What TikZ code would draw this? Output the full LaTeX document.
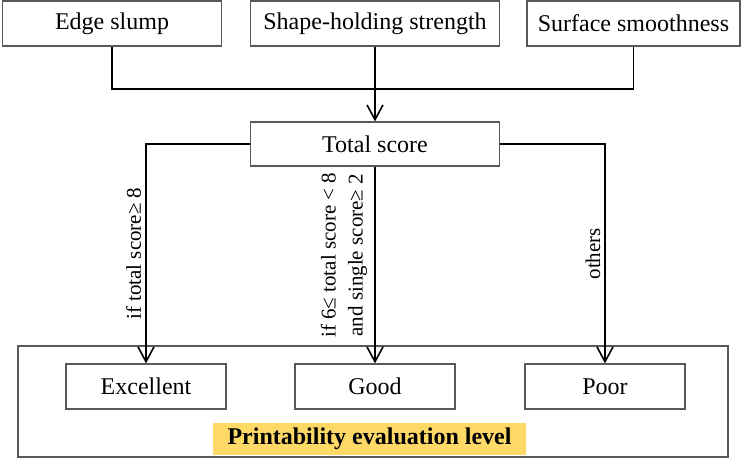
\documentclass[tikz,border=0pt]{standalone}
\usepackage{fontspec}
\setmainfont{Liberation Serif}
\usepackage{xcolor}
\usetikzlibrary{positioning,arrows.meta,calc}
\definecolor{cbox}{RGB}{89,89,89}
\definecolor{clevel}{RGB}{255,217,102}

\begin{document}
\begin{tikzpicture}[x=0.5pt,y=-0.5pt,font=\fontsize{12}{14}\selectfont,
  crit/.style={draw=cbox,semithick,inner sep=0pt,minimum height=22.5pt},
  grade/.style={draw=cbox,semithick,inner sep=0pt,minimum width=80pt,minimum height=22.5pt},
  flow/.style={-{Straight Barb[length=2.6mm,width=2.8mm]},black,thick},
  cond/.style={rotate=90,anchor=south,inner sep=2pt,align=center,font=\fontsize{10.5}{13.5}\selectfont},
]
\useasboundingbox (0,0) rectangle (750,461);
% criteria
\node[crit,minimum width=109.5pt] (slump) at (112,23.5) {Edge slump};
\node[crit,minimum width=124.5pt] (shape) at (375,23.5) {Shape-holding strength};
\node[crit,minimum width=106.5pt] (smooth) at (633.5,23.5) {Surface smoothness};
\node[crit,minimum width=124.5pt,minimum height=22pt] (total) at (375,144) {Total score};
% evaluation level
\node[draw=cbox,semithick,minimum width=355pt,minimum height=55.5pt,inner sep=0pt] (level) at (373,401.5) {};
\node[grade] (excel) at (146,386.5) {Excellent};
\node[grade] (good) at (375,386.5) {Good};
\node[grade] (poor) at (605,386.5) {Poor};
\node[fill=clevel,minimum width=156.5pt,minimum height=16pt,inner sep=0pt,font=\fontsize{12}{14}\selectfont\bfseries] (lvlname) at (369.5,439) {Printability evaluation level};
% connectors
\coordinate (join) at (375,89);
\draw[black,thick] (slump.south) |- (join) -| (smooth.south);
\draw[flow] (shape.south) -- (total.north);
\draw[flow] (total.west) -| (excel.north)
  node[cond,pos=0.75] {if total score≥ 8};
\draw[flow] (total.south) -- (good.north)
  node[cond,pos=0.45,inner sep=3.5pt] {if 6≤ total score < 8\\and single score≥ 2};
\draw[flow] (total.east) -| (poor.north)
  node[cond,pos=0.75] {others};
\end{tikzpicture}
\end{document}
